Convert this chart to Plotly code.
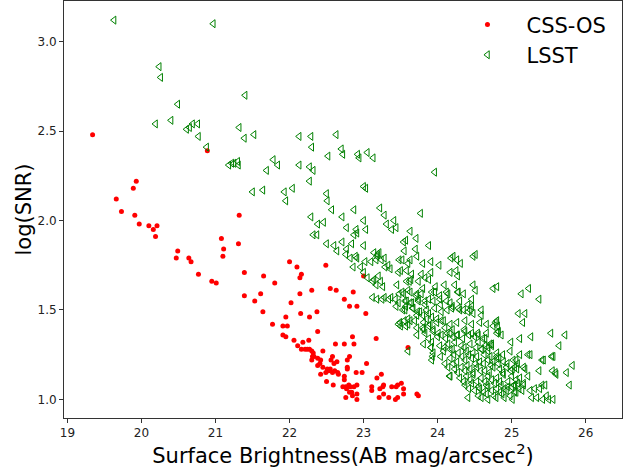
import plotly.graph_objects as go

# ---------------- data ----------------
css_x = [19.34, 20.89, 19.93, 19.89, 19.66, 19.73, 19.91, 21.32, 19.97, 20.10,
         20.21, 20.16, 20.19, 21.08, 21.31, 20.49, 21.11, 21.10, 20.47, 20.64,
         20.67, 20.77, 21.39, 20.95, 21.01, 21.39, 21.53, 21.61, 21.65, 21.64,
         21.80, 21.77, 22.00, 22.10, 22.16, 22.14, 22.30, 22.14, 22.02, 22.15,
         21.95, 22.27, 22.37, 21.91, 21.97, 21.91, 21.95, 22.06, 22.18, 22.26,
         22.38, 22.11, 22.16, 22.21, 22.24, 22.27, 22.30, 22.32, 22.33, 22.31,
         22.30, 22.38, 22.42, 22.41, 22.38, 22.45, 22.49, 22.55, 22.63, 22.86,
         22.74, 22.81, 22.91, 23.03, 22.85, 23.17, 22.62, 22.74, 22.87, 22.58,
         22.56, 22.64, 22.60, 22.81, 22.78, 22.45, 22.51, 22.55, 22.49, 22.53,
         22.58, 22.61, 22.65, 22.78, 22.78, 23.04, 22.90, 22.98, 22.42, 22.66,
         22.74, 22.74, 23.18, 23.24, 22.50, 22.59, 22.72, 22.76, 22.82, 22.80,
         22.87, 22.91, 22.77, 22.81, 22.84, 22.85, 22.91, 22.76, 22.91, 23.11,
         23.11, 23.22, 23.26, 23.27, 23.21, 23.27, 23.38, 23.44, 23.46, 23.51,
         23.54, 23.34, 23.43, 23.46, 23.54, 23.60, 23.72, 23.74, 23.00]
css_y = [2.48, 2.39, 2.22, 2.18, 2.12, 2.05, 2.03, 2.03, 1.98, 1.97,
         1.97, 1.95, 1.91, 1.90, 1.87, 1.83, 1.84, 1.80, 1.79, 1.79,
         1.77, 1.70, 1.71, 1.66, 1.65, 1.58, 1.55, 1.59, 1.69, 1.49,
         1.65, 1.42, 1.77, 1.74, 1.70, 1.68, 1.61, 1.59, 1.54, 1.48,
         1.46, 1.46, 1.49, 1.41, 1.41, 1.36, 1.35, 1.33, 1.32, 1.33,
         1.38, 1.30, 1.28, 1.28, 1.28, 1.28, 1.27, 1.26, 1.24, 1.24,
         1.22, 1.23, 1.22, 1.20, 1.19, 1.27, 1.75, 1.62, 1.61, 1.60,
         1.56, 1.52, 1.52, 1.48, 1.35, 1.34, 1.31, 1.31, 1.31, 1.24,
         1.22, 1.21, 1.20, 1.24, 1.22, 1.18, 1.17, 1.17, 1.15, 1.16,
         1.15, 1.16, 1.15, 1.18, 1.17, 1.20, 1.15, 1.15, 1.14, 1.14,
         1.13, 1.11, 1.12, 1.14, 1.10, 1.08, 1.07, 1.07, 1.07, 1.08,
         1.07, 1.08, 1.06, 1.04, 1.04, 1.02, 1.03, 1.01, 1.00, 1.07,
         1.05, 1.06, 1.07, 1.08, 1.01, 1.03, 1.07, 1.07, 1.08, 1.09,
         1.06, 1.01, 1.00, 1.01, 1.03, 1.29, 1.03, 1.02, 1.69]

lsst_x = [
    # sparse upper part
    19.63, 20.97, 20.24, 20.26, 21.40, 20.49, 20.40, 20.19, 20.61, 20.69,
    20.76, 20.65, 20.77, 20.88, 21.32, 21.39, 21.52, 22.13, 22.29, 22.30,
    22.63, 21.18, 21.22, 21.25, 21.30, 21.31, 21.78, 21.84, 21.69, 22.13,
    22.27, 22.32, 22.27, 21.50, 21.64, 21.93, 22.04, 21.95, 22.52, 22.70,
    22.72, 22.92, 22.94, 23.05, 23.13, 23.96, 22.50, 22.51, 23.00, 23.03,
    22.57, 22.87, 23.22, 23.77, 22.29, 22.38, 22.46, 22.71, 23.00, 23.28,
    23.41, 23.44, 23.31, 23.38, 22.77, 22.90, 22.87, 22.91, 23.03, 23.63,
    22.32, 22.37, 23.71, 23.57, 22.50, 22.60, 22.64, 22.71, 22.77, 22.84,
    23.00, 22.89, 22.91, 22.76, 23.14, 23.21, 23.18, 23.28, 23.54, 23.55,
    23.70, 23.72, 23.88, 23.48, 23.52,
    # middle band
    23.19, 23.17, 23.24, 23.10, 22.82, 22.86, 22.96, 23.00, 23.02, 23.29,
    23.33, 23.36, 23.60, 23.63, 23.50, 23.47, 23.58, 23.80, 23.91, 24.02,
    24.18, 24.21, 24.31, 24.26, 24.48, 24.51, 24.17, 24.25, 24.27, 23.83,
    23.78, 23.91, 23.88, 23.65, 23.64, 23.62, 23.74, 23.05, 23.14, 23.20,
    23.23, 23.17, 23.26, 23.12, 23.45, 23.58, 23.60, 23.52, 23.48, 23.37,
    23.34, 23.28, 23.25, 23.12, 23.18, 23.97, 24.09, 23.96, 24.12, 24.23,
    24.28, 24.35, 24.48, 24.51, 23.80, 23.72, 23.83, 23.74, 23.88, 23.58,
    23.63, 23.57, 23.66, 23.53, 23.44, 23.43, 23.47, 24.04, 24.12, 24.13,
    24.20, 24.28, 24.35, 24.44, 24.48, 23.73, 23.80, 23.88, 23.92, 23.85,
    23.99, 24.05, 23.50, 23.57, 23.63, 23.72, 23.80, 23.88, 23.94, 24.01,
    24.10, 24.13, 24.20, 24.27, 24.36, 24.42, 24.54, 23.47, 23.55, 23.60,
    23.72, 23.81,
    # dense lower band
    23.54, 23.63, 23.71, 23.78, 23.92, 24.03, 24.14, 24.27,
    23.56, 23.65, 23.74, 23.83, 23.94, 24.03, 24.17, 24.30, 24.41, 24.46,
    23.56, 23.67, 23.76, 23.85, 23.96, 24.05, 24.19, 24.30, 24.41, 24.46, 24.59,
    24.80,
    23.49, 23.60, 23.69, 23.81, 23.90, 23.99, 24.08, 24.17, 24.26, 24.37, 24.46, 24.57, 24.66,
    23.72, 23.83, 23.94, 24.05, 24.17, 24.26, 24.37, 24.46, 24.55, 24.66, 24.82,
    23.81, 23.92, 24.03, 24.14, 24.23, 24.32, 24.44, 24.55, 24.64, 24.73,
    23.60, 23.94, 24.08, 24.17, 24.28, 24.39, 24.48, 24.59, 24.68, 24.80, 24.98,
    23.92, 24.17, 24.26, 24.37, 24.46, 24.57, 24.68, 24.80, 24.89, 25.02,
    24.14, 24.23, 24.32, 24.44, 24.53, 24.64, 24.75, 24.84, 24.93, 25.07,
    24.17, 24.30, 24.39, 24.48, 24.59, 24.68, 24.80, 24.89, 25.00, 25.11, 25.22,
    24.37, 24.46, 24.55, 24.66, 24.77, 24.86, 24.95, 25.04, 25.16,
    24.50, 24.62, 24.73, 24.84, 24.93, 25.04, 25.14,
    24.41, 24.59, 24.68, 24.79, 24.90, 25.01,
    23.88, 24.00, 24.11, 24.21, 24.34, 24.50, 24.61,
    23.91, 24.09, 24.20, 24.36, 24.52, 24.60,
    24.04, 24.22, 24.33, 24.42, 24.53, 24.63, 24.71, 24.88,
    24.10, 24.21, 24.40, 24.51, 24.62, 24.72, 24.94,
    24.27, 24.37, 24.48, 24.58, 24.70, 24.88, 24.99,
    24.35, 24.44, 24.53, 24.64, 24.73, 24.84, 24.95, 25.06,
    24.42, 24.57, 24.68, 24.80, 24.90, 25.00, 25.10,
    24.55, 24.66, 24.76, 24.87, 24.98,
    24.16, 23.93, 23.91,
    # right side
    24.75, 24.80, 25.23, 25.13, 25.37, 24.59, 25.09, 25.18, 24.78, 24.75,
    24.81, 25.15, 24.82, 24.86, 24.80, 25.53, 25.72, 24.64, 24.68, 24.73,
    24.71, 24.99, 25.11, 25.26, 25.64, 24.80, 24.83, 24.75, 24.82, 25.11,
    25.25, 25.41, 25.56, 25.06, 25.04, 25.08, 25.01, 25.16, 25.18, 25.37,
    25.59, 25.55, 25.60, 25.74, 25.82, 25.78, 25.41, 25.45, 25.16, 25.03,
    25.08, 25.25, 25.31, 25.38, 25.27, 25.34, 25.42, 25.47, 25.50, 25.56,
    25.54, 25.43, 25.22, 25.06,
]
lsst_y = [
    # sparse upper part
    3.12, 3.10, 2.86, 2.80, 2.70, 2.65, 2.56, 2.54, 2.51, 2.54,
    2.54, 2.52, 2.47, 2.41, 2.52, 2.46, 2.48, 2.47, 2.47, 2.41,
    2.48, 2.31, 2.32, 2.32, 2.33, 2.31, 2.34, 2.31, 2.28, 2.31,
    2.30, 2.28, 2.22, 2.16, 2.17, 2.16, 2.18, 2.11, 2.36, 2.40,
    2.37, 2.37, 2.35, 2.38, 2.35, 2.27, 2.15, 2.11, 2.19, 2.18,
    2.06, 2.06, 2.07, 2.04, 2.02, 1.98, 1.99, 2.02, 2.00, 2.03,
    2.00, 1.96, 1.98, 1.95, 1.96, 1.95, 1.92, 1.93, 1.95, 1.94,
    1.92, 1.92, 1.90, 1.89, 1.87, 1.86, 1.83, 1.88, 1.84, 1.87,
    1.86, 1.80, 1.79, 1.81, 1.82, 1.82, 1.80, 1.79, 1.88, 1.83,
    1.84, 1.80, 1.86, 1.78, 1.78,
    # middle band
    1.81, 1.78, 1.78, 1.77, 1.79, 1.74, 1.74, 1.71, 1.77, 1.74,
    1.75, 1.73, 1.76, 1.78, 1.72, 1.71, 1.72, 1.76, 1.77, 1.75,
    1.79, 1.80, 1.76, 1.78, 1.80, 1.81, 1.71, 1.72, 1.69, 1.68,
    1.70, 1.71, 1.67, 1.70, 1.67, 1.66, 1.66, 1.68, 1.67, 1.69,
    1.66, 1.64, 1.63, 1.66, 1.64, 1.66, 1.61, 1.60, 1.59, 1.57,
    1.56, 1.57, 1.56, 1.57, 1.56, 1.63, 1.64, 1.60, 1.60, 1.64,
    1.60, 1.59, 1.64, 1.61, 1.62, 1.59, 1.55, 1.56, 1.56, 1.55,
    1.54, 1.52, 1.51, 1.50, 1.52, 1.56, 1.54, 1.53, 1.55, 1.50,
    1.52, 1.51, 1.50, 1.50, 1.48, 1.49, 1.47, 1.48, 1.46, 1.45,
    1.45, 1.44, 1.41, 1.41, 1.44, 1.40, 1.40, 1.41, 1.39, 1.37,
    1.40, 1.37, 1.39, 1.36, 1.39, 1.36, 1.37, 1.42, 1.44, 1.45,
    1.47, 1.39,
    # dense lower band
    1.59, 1.60, 1.58, 1.59, 1.60, 1.58, 1.59, 1.60,
    1.55, 1.54, 1.55, 1.53, 1.55, 1.56, 1.54, 1.55, 1.53, 1.56,
    1.50, 1.51, 1.49, 1.50, 1.51, 1.49, 1.51, 1.50, 1.49, 1.52, 1.50,
    1.44,
    1.43, 1.42, 1.44, 1.43, 1.42, 1.43, 1.44, 1.42, 1.43, 1.44, 1.42, 1.43, 1.42,
    1.36, 1.37, 1.38, 1.36, 1.37, 1.36, 1.38, 1.37, 1.36, 1.37, 1.38,
    1.31, 1.32, 1.30, 1.31, 1.32, 1.30, 1.31, 1.32, 1.30, 1.31,
    1.27, 1.26, 1.27, 1.28, 1.26, 1.27, 1.26, 1.28, 1.27, 1.26, 1.27,
    1.22, 1.23, 1.21, 1.22, 1.23, 1.21, 1.22, 1.23, 1.21, 1.22,
    1.18, 1.17, 1.18, 1.17, 1.18, 1.16, 1.18, 1.17, 1.18, 1.17,
    1.13, 1.12, 1.13, 1.14, 1.12, 1.13, 1.12, 1.14, 1.13, 1.12, 1.13,
    1.08, 1.09, 1.07, 1.08, 1.09, 1.08, 1.07, 1.08, 1.09,
    1.05, 1.04, 1.05, 1.04, 1.05, 1.04, 1.05,
    1.01, 1.01, 1.00, 1.01, 1.01, 1.00,
    1.34, 1.35, 1.34, 1.35, 1.34, 1.35, 1.34,
    1.29, 1.29, 1.28, 1.29, 1.29, 1.28,
    1.24, 1.25, 1.24, 1.25, 1.24, 1.25, 1.24, 1.25,
    1.20, 1.20, 1.19, 1.20, 1.20, 1.19, 1.20,
    1.15, 1.16, 1.15, 1.16, 1.15, 1.15, 1.16,
    1.10, 1.11, 1.10, 1.10, 1.11, 1.10, 1.10, 1.11,
    1.06, 1.06, 1.07, 1.06, 1.06, 1.07, 1.06,
    1.02, 1.03, 1.02, 1.03, 1.02,
    1.13, 1.24, 1.29,
    # right side
    1.62, 1.63, 1.62, 1.59, 1.56, 1.47, 1.48, 1.48, 1.43, 1.41,
    1.41, 1.43, 1.38, 1.36, 1.37, 1.37, 1.36, 1.34, 1.29, 1.30,
    1.31, 1.32, 1.34, 1.35, 1.30, 1.24, 1.23, 1.21, 1.20, 1.25,
    1.25, 1.22, 1.24, 1.22, 1.18, 1.20, 1.17, 1.18, 1.17, 1.16,
    1.15, 1.16, 1.14, 1.15, 1.19, 1.08, 1.08, 1.08, 1.08, 1.08,
    1.09, 1.05, 1.06, 1.06, 1.01, 1.01, 1.00, 1.02, 1.00, 1.00,
    1.24, 1.22, 1.25, 1.04,
]

x_ticks = [19, 20, 21, 22, 23, 24, 25, 26]
y_ticks = [1.0, 1.5, 2.0, 2.5, 3.0]

FONT = "DejaVu Sans"

fig = go.Figure()
fig.add_trace(go.Scatter(
    x=css_x, y=css_y, mode="markers", name="CSS-OS",
    marker=dict(symbol="circle", color="#ff0000", size=5, line=dict(width=0)),
))
fig.add_trace(go.Scatter(
    x=lsst_x, y=lsst_y, mode="markers", name="LSST",
    marker=dict(symbol="triangle-left-open", color="#008000", size=7,
                line=dict(width=1, color="#008000")),
))

axis_common = dict(
    showline=True, linecolor="#333333", linewidth=1, mirror=True,
    ticks="outside", ticklen=4, tickwidth=1, tickcolor="#333333",
    showgrid=False, zeroline=False,
    tickfont=dict(family=FONT, size=12, color="#222222"),
)

fig.update_layout(
    width=632, height=470,
    margin=dict(l=64, r=10, t=1, b=52),
    paper_bgcolor="white", plot_bgcolor="white",
    font=dict(family=FONT, color="black"),
    xaxis=dict(
        range=[18.954, 26.49], tickvals=x_ticks,
        title=dict(text="Surface Brightness(AB mag/arcsec<sup>2</sup>)",
                   font=dict(family=FONT, size=21), standoff=6),
        **axis_common,
    ),
    yaxis=dict(
        range=[0.896, 3.227], tickvals=y_ticks, tickformat=".1f",
        title=dict(text="log(SNR)", font=dict(family=FONT, size=21), standoff=0),
        **axis_common,
    ),
    legend=dict(
        x=0.689, y=0.992, xanchor="left", yanchor="top",
        bgcolor="rgba(0,0,0,0)", font=dict(family=FONT, size=21),
        itemwidth=68,
    ),
    showlegend=True,
)

fig.write_html(
    "out.html",
    config={"displayModeBar": False},
    post_script="document.body.style.margin='0';document.body.style.padding='0';",
)
